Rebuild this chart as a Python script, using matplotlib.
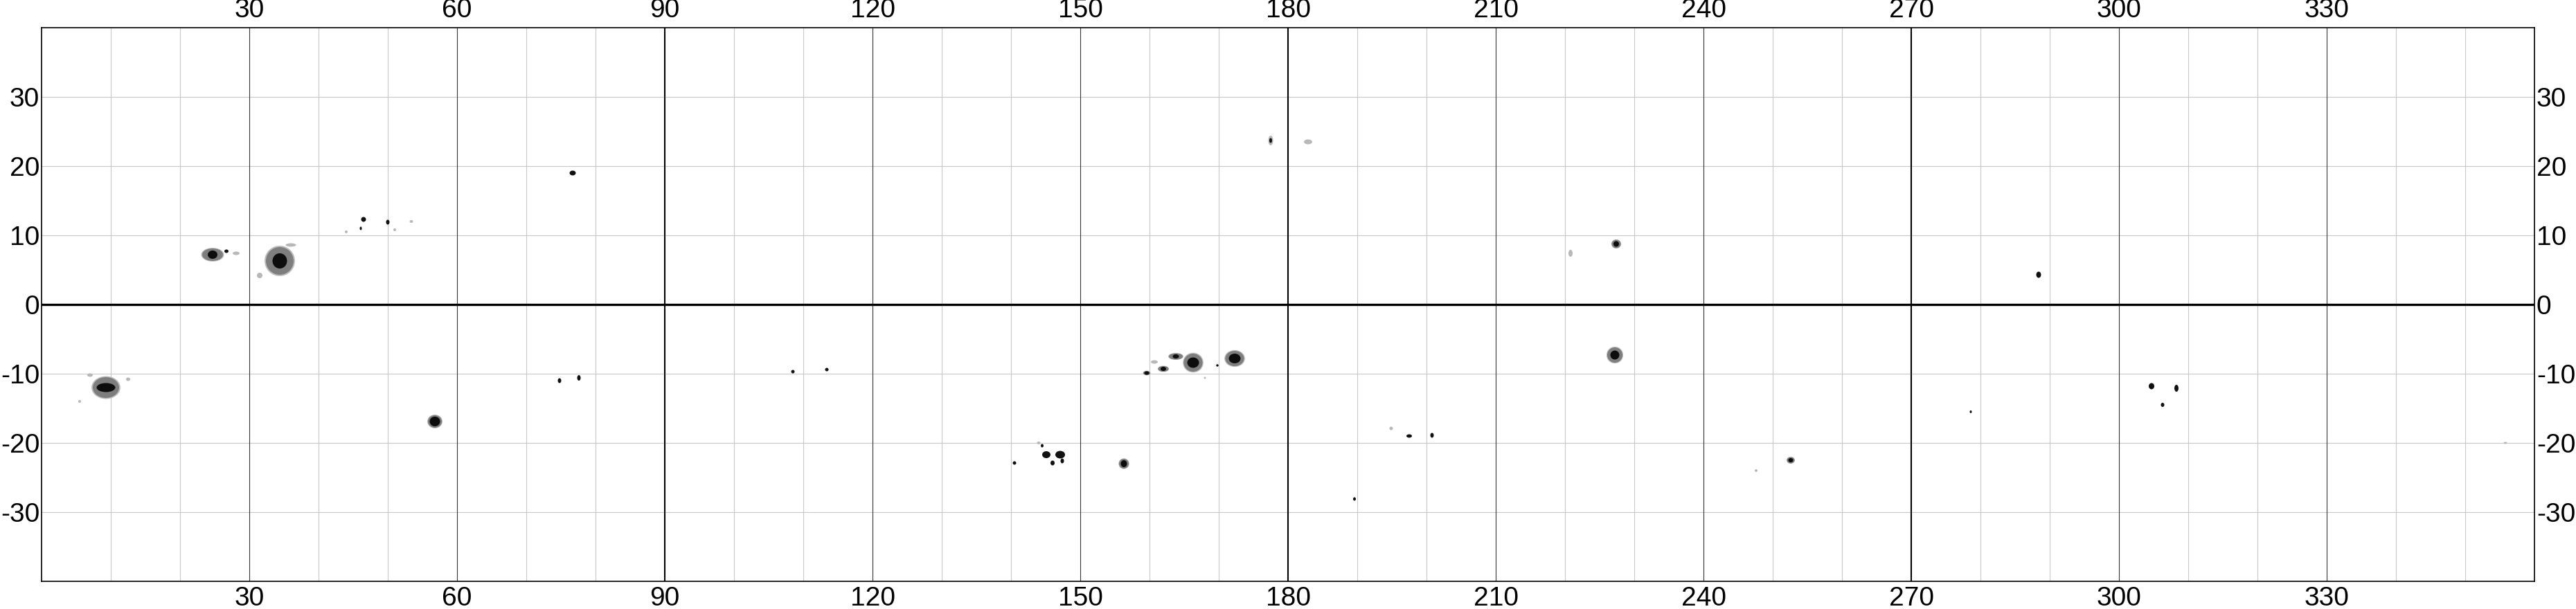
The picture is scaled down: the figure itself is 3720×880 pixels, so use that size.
import numpy as np
import matplotlib
matplotlib.use("Agg")
import matplotlib.pyplot as plt
from matplotlib.collections import EllipseCollection

plt.rcParams['font.family'] = ['Liberation Sans', 'DejaVu Sans']
plt.rcParams['axes.unicode_minus'] = False

# ---- data: sunspots (Carrington longitude, latitude, sizes in degrees) ----
spot_lon = [34.4, 24.7, 9.3, 56.8, 166.3, 172.3, 163.8, 162.0, 159.6, 156.3, 227.2, 227.4, 252.6]
spot_lat = [6.3, 7.2, -12.0, -16.9, -8.4, -7.8, -7.5, -9.3, -9.9, -23.0, -7.3, 8.75, -22.5]
pen_w = [4.0, 3.0, 3.8, 2.0, 2.7, 2.7, 2.0, 1.5, 1.0, 1.4, 2.2, 1.3, 1.1]
pen_h = [4.0, 1.8, 3.0, 1.8, 2.6, 2.2, 0.9, 0.8, 0.6, 1.4, 2.2, 1.2, 0.9]
umb_w = [2.1, 1.4, 2.7, 1.5, 1.7, 1.7, 0.9, 0.8, 0.7, 0.9, 1.3, 0.8, 0.7]
umb_h = [2.2, 1.2, 1.3, 1.4, 1.5, 1.4, 0.6, 0.6, 0.5, 1.0, 1.3, 0.8, 0.6]

# small dark pores
pore_lon = [26.7, 46.5, 50.0, 46.1, 76.7, 74.8, 77.6, 108.5, 113.4, 140.5, 145.1, 147.1, 146.0,
            147.4, 144.5, 169.8, 177.5, 197.5, 200.8, 189.6, 288.4, 278.6, 304.7, 308.3, 306.3]
pore_lat = [7.7, 12.3, 11.9, 11.0, 19.0, -11.0, -10.6, -9.7, -9.4, -22.9, -21.7, -21.7, -22.9,
            -22.6, -20.4, -8.8, 23.7, -19.0, -18.9, -28.1, 4.3, -15.5, -11.8, -12.1, -14.5]
pore_w = [0.6, 0.7, 0.5, 0.3, 0.9, 0.5, 0.5, 0.5, 0.5, 0.5, 1.2, 1.4, 0.6,
          0.5, 0.4, 0.35, 0.4, 0.8, 0.5, 0.4, 0.7, 0.3, 0.8, 0.6, 0.5]
pore_h = [0.5, 0.7, 0.7, 0.5, 0.7, 0.7, 0.8, 0.5, 0.5, 0.5, 1.0, 1.1, 0.7,
          0.7, 0.5, 0.35, 0.7, 0.5, 0.7, 0.5, 0.9, 0.4, 0.9, 1.0, 0.6]

# faint grey features
faint_lon = [28.1, 53.4, 177.5, 182.9, 220.8, 194.9, 247.6, 355.8, 160.7, 168.0, 144.0, 36.0,
             31.5, 7.0, 12.5, 5.5, 44.0, 51.0]
faint_lat = [7.4, 12.0, 23.7, 23.5, 7.4, -17.9, -24.0, -20.0, -8.3, -10.6, -20.0, 8.6,
             4.2, -10.2, -10.8, -14.0, 10.5, 10.8]
faint_w = [1.0, 0.5, 0.7, 1.2, 0.6, 0.5, 0.4, 0.5, 1.0, 0.3, 0.5, 1.5,
           0.8, 0.8, 0.6, 0.4, 0.4, 0.4]
faint_h = [0.5, 0.4, 1.4, 0.7, 1.0, 0.5, 0.4, 0.3, 0.5, 0.3, 0.4, 0.5,
           0.8, 0.5, 0.5, 0.4, 0.4, 0.4]

x_ticks = [30, 60, 90, 120, 150, 180, 210, 240, 270, 300, 330]
y_ticks = [-30, -20, -10, 0, 10, 20, 30]
minor_x = list(range(10, 360, 10))
major_x = [90, 180, 270]

fig = plt.figure(figsize=(37.2, 8.8), dpi=100)
ax = fig.add_axes([60 / 3720, 40 / 880, 3600 / 3720, 800 / 880])
ax.set_xlim(0, 360)
ax.set_ylim(-40, 40)

# grid
for x in minor_x:
    if x in major_x:
        ax.axvline(x, color='black', lw=1.5, zorder=1)
    elif x % 30 == 0:
        ax.axvline(x, color='#333333', lw=0.8, zorder=1)
    else:
        ax.axvline(x, color='#c8c8c8', lw=0.8, zorder=0.5)
for y in y_ticks:
    if y == 0:
        ax.axhline(y, color='black', lw=2.4, zorder=1.2)
    else:
        ax.axhline(y, color='#c8c8c8', lw=0.8, zorder=0.5)


def add_ell(xs, ys, ws, hs, color, scale=1.0, z=2):
    ec = EllipseCollection(np.array(ws) * scale, np.array(hs) * scale, np.zeros(len(ws)),
                           units='xy', offsets=np.column_stack([xs, ys]),
                           offset_transform=ax.transData, facecolors=color,
                           edgecolors='none', zorder=z)
    ax.add_collection(ec)


add_ell(faint_lon, faint_lat, faint_w, faint_h, '#b8b8b8', z=2)
add_ell(spot_lon, spot_lat, pen_w, pen_h, '#bdbdbd', scale=1.1, z=2.1)
add_ell(spot_lon, spot_lat, pen_w, pen_h, '#7e7e7e', z=2.2)
add_ell(spot_lon, spot_lat, umb_w, umb_h, '#0d0d0d', z=2.3)
add_ell(pore_lon, pore_lat, pore_w, pore_h, '#111111', z=2.4)

ax.set_xticks(x_ticks)
ax.set_yticks(y_ticks)
ax.set_xticklabels([str(v) for v in x_ticks])
ax.set_yticklabels([str(v) for v in y_ticks])
ax.tick_params(axis='x', which='both', length=0, labelsize=28, pad=5,
               top=True, labeltop=True, bottom=True, labelbottom=True)
ax.tick_params(axis='y', which='both', length=0, labelsize=28, pad=2,
               left=True, labelleft=True, right=True, labelright=True)
ax.tick_params(axis='y', which='both', labelright=True, right=True)
for lbl in ax.yaxis.get_ticklabels(which='major'):
    pass
ax.yaxis.set_tick_params(which='major', pad=2)
for s in ax.spines.values():
    s.set_linewidth(1.2)
    s.set_color('black')
    s.set_zorder(5)

fig.savefig('out.png', dpi=100, facecolor='white')
